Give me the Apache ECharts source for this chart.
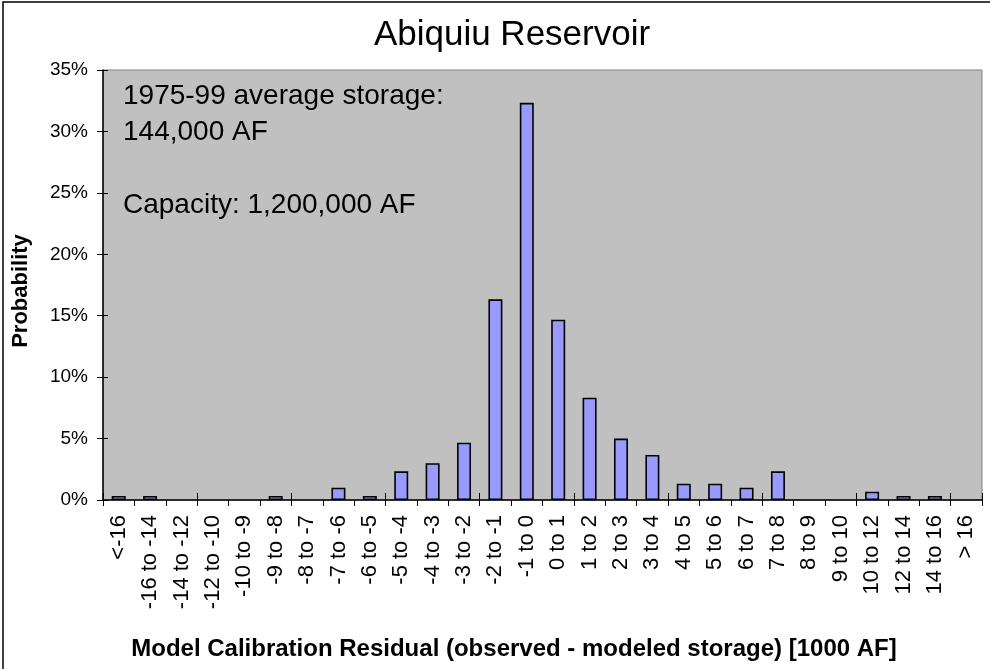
<!DOCTYPE html>
<html>
<head>
<meta charset="utf-8">
<script src="https://cdn.jsdelivr.net/npm/echarts@6/dist/echarts.min.js"></script>
<style>
  html, body { margin: 0; padding: 0; background: #ffffff; }
  #chart { width: 990px; height: 669px; }
</style>
</head>
<body>
<div id="chart"></div>
<script>
// Residual bins (1000 AF)
const categories = [
  '<-16', '-16 to -14', '-14 to -12', '-12 to -10', '-10 to -9', '-9 to -8',
  '-8 to -7', '-7 to -6', '-6 to -5', '-5 to -4', '-4 to -3', '-3 to -2',
  '-2 to -1', '-1 to 0', '0 to 1', '1 to 2', '2 to 3', '3 to 4', '4 to 5',
  '5 to 6', '6 to 7', '7 to 8', '8 to 9', '9 to 10', '10 to 12', '12 to 14',
  '14 to 16', '> 16'
];

// Probability of each bin, percent
const probability = [
  0.33, 0.33, 0, 0, 0, 0.33,
  0, 1.00, 0.33, 2.33, 3.00, 4.67,
  16.33, 32.33, 14.67, 8.33, 5.00, 3.67, 1.33,
  1.33, 1.00, 2.33, 0, 0, 0.67, 0.33,
  0.33, 0
];

// Value axis ticks
const yMin = 0;
const yMax = 35;
const yStep = 5;

const chartTitle = 'Abiquiu Reservoir';
const xAxisTitle = 'Model Calibration Residual (observed - modeled storage) [1000 AF]';
const yAxisTitle = 'Probability';
const noteText = '1975-99 average storage:\n144,000 AF\n\nCapacity: 1,200,000 AF';

const FONT = '"Liberation Sans", Arial, sans-serif';

// empty bins get no outline so nothing is drawn for them
const barData = probability.map(v => (
  v > 0 ? v : { value: v, itemStyle: { borderWidth: 0 } }
));

const chart = echarts.init(document.getElementById('chart'), null, { renderer: 'canvas' });

chart.setOption({
  animation: false,
  backgroundColor: '#ffffff',
  grid: {
    left: 103,
    right: 8,
    top: 70,
    bottom: 169,
    show: true,
    backgroundColor: '#C0C0C0',
    borderColor: '#808080',
    borderWidth: 1
  },
  xAxis: [
    {
      type: 'category',
      data: categories,
      position: 'bottom',
      axisLine: { show: true, lineStyle: { color: '#000', width: 1.5 } },
      axisTick: { show: true, alignWithLabel: false, inside: false, length: 6, lineStyle: { color: '#000', width: 1 } },
      axisLabel: {
        interval: 0,
        rotate: 90,
        margin: 15,
        color: '#000',
        fontFamily: FONT,
        fontSize: 22
      },
      splitLine: { show: false }
    },
    {
      // inner half of the crossing tick marks
      type: 'category',
      data: categories,
      position: 'bottom',
      axisLine: { show: false },
      axisTick: { show: true, inside: true, length: 7, lineStyle: { color: '#000', width: 1 } },
      axisLabel: { show: false },
      splitLine: { show: false }
    }
  ],
  yAxis: [
    {
      type: 'value',
      min: yMin,
      max: yMax,
      interval: yStep,
      position: 'left',
      axisLine: { show: true, lineStyle: { color: '#000', width: 1.5 } },
      axisTick: { show: true, inside: false, length: 6, lineStyle: { color: '#000', width: 1 } },
      axisLabel: {
        formatter: '{value}%',
        margin: 15,
        color: '#000',
        fontFamily: FONT,
        fontSize: 19
      },
      splitLine: { show: false }
    },
    {
      type: 'value',
      min: yMin,
      max: yMax,
      interval: yStep,
      position: 'left',
      axisLine: { show: false },
      axisTick: { show: true, inside: true, length: 5, lineStyle: { color: '#000', width: 1 } },
      axisLabel: { show: false },
      splitLine: { show: false }
    }
  ],
  series: [
    {
      type: 'bar',
      xAxisIndex: 0,
      yAxisIndex: 0,
      data: barData,
      barWidth: 14,
      itemStyle: {
        color: '#9999FF',
        borderColor: '#000',
        borderWidth: 1.6
      }
    }
  ],
  graphic: [
    {
      // chart frame
      type: 'rect',
      shape: { x: 3, y: 2, width: 1000, height: 700 },
      style: { fill: 'none', stroke: '#000', lineWidth: 1.5 },
      silent: true,
      z: 100
    },
    {
      type: 'text',
      x: 512,
      y: 35,
      style: {
        text: chartTitle,
        font: 'normal 35px ' + FONT,
        fill: '#000',
        align: 'center',
        verticalAlign: 'middle'
      }
    },
    {
      type: 'text',
      x: 123,
      y: 78,
      style: {
        text: noteText,
        font: 'normal 28px ' + FONT,
        lineHeight: 36.3,
        fill: '#000',
        align: 'left',
        verticalAlign: 'top'
      },
      z: 50
    },
    {
      type: 'text',
      x: 514,
      y: 649,
      style: {
        text: xAxisTitle,
        font: 'bold 24px ' + FONT,
        fill: '#000',
        align: 'center',
        verticalAlign: 'middle'
      }
    },
    {
      type: 'text',
      x: 21,
      y: 291,
      rotation: Math.PI / 2,
      style: {
        text: yAxisTitle,
        font: 'bold 22px ' + FONT,
        fill: '#000',
        align: 'center',
        verticalAlign: 'middle'
      }
    }
  ]
});
</script>
</body>
</html>
